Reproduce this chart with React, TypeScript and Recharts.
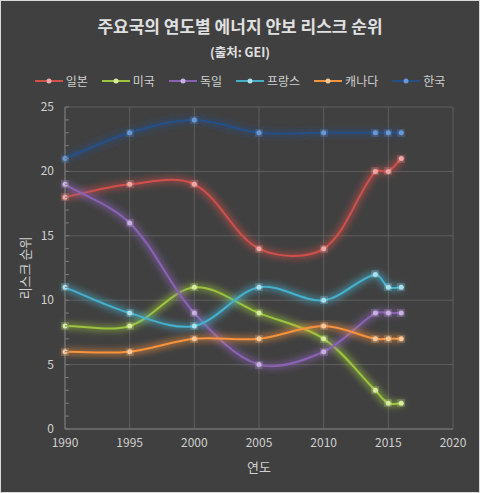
import React from 'react';
import { LineChart, Line, XAxis, YAxis, CartesianGrid } from 'recharts';

const years = [1990, 1995, 2000, 2005, 2010, 2014, 2015, 2016];
const japan = [18, 19, 19, 14, 14, 20, 20, 21];
const usa = [8, 8, 11, 9, 7, 3, 2, 2];
const germany = [19, 16, 9, 5, 6, 9, 9, 9];
const france = [11, 9, 8, 11, 10, 12, 11, 11];
const canada = [6, 6, 7, 7, 8, 7, 7, 7];
const korea = [21, 23, 24, 23, 23, 23, 23, 23];

const xTicks = [1990, 1995, 2000, 2005, 2010, 2015, 2020];
const yTicks = Array.from({ length: 26 }, (_, i) => i);
const yMajor = [0, 5, 10, 15, 20, 25];

const series = [
    { key: 'japan', name: '일본', values: japan, color: '#d0504c', dot: '#f0a8a6' },
    { key: 'usa', name: '미국', values: usa, color: '#9cc43e', dot: '#d4ec9c' },
    { key: 'germany', name: '독일', values: germany, color: '#8a62b4', dot: '#c8b0e2' },
    { key: 'france', name: '프랑스', values: france, color: '#46b0cc', dot: '#a8e0ee' },
    { key: 'canada', name: '캐나다', values: canada, color: '#f7923e', dot: '#fcc89a' },
    { key: 'korea', name: '한국', values: korea, color: '#264f88', dot: '#6a98d4' },
];

const data = years.map((year, i) => {
    const row: any = { year };
    series.forEach(s => { row[s.key] = s.values[i]; });
    return row;
});

const FONT = '"Noto Sans CJK KR", "Noto Sans", sans-serif';
const TEXT = '#d0d0d0';

const dist = (a: number[], b: number[]) => Math.hypot(b[0] - a[0], b[1] - a[1]);

// Excel-like smoothed line: Catmull-Rom bezier, tangents scaled by segment length
const excelCurve: any = (context: any) => {
    let pts: number[][] = [];
    return {
        areaStart() {},
        areaEnd() {},
        lineStart() { pts = []; },
        lineEnd() {
            if (!pts.length) return;
            context.moveTo(pts[0][0], pts[0][1]);
            for (let i = 0; i < pts.length - 1; i++) {
                const p0 = pts[i - 1] || pts[i];
                const p1 = pts[i];
                const p2 = pts[i + 1];
                const p3 = pts[i + 2] || p2;
                const d01 = dist(p0, p1), d12 = dist(p1, p2), d23 = dist(p2, p3);
                const k1 = d01 + d12 > 0 ? d12 / (d01 + d12) / 1.5 : 0;
                const k2 = d12 + d23 > 0 ? d12 / (d12 + d23) / 1.5 : 0;
                const s1 = pts[i - 1] ? k1 / 2 : k1 / 2;
                const s2 = pts[i + 2] ? k2 / 2 : k2 / 2;
                context.bezierCurveTo(
                    p1[0] + (p2[0] - p0[0]) * s1, p1[1] + (p2[1] - p0[1]) * s1,
                    p2[0] - (p3[0] - p1[0]) * s2, p2[1] - (p3[1] - p1[1]) * s2,
                    p2[0], p2[1]
                );
            }
        },
        point(x: number, y: number) { pts.push([x, y]); },
    };
};

const YTick = ({ x, y, payload }: any) => {
    const axisX = x + 10;
    const v = payload.value;
    return (
        <g>
            <line x1={axisX} x2={axisX + 4} y1={y} y2={y} stroke="#7a7a7a" />
            {v % 5 === 0 && (
                <text x={axisX - 11} y={y} dy={4} textAnchor="end" fill={TEXT} fontSize={12} fontFamily={FONT}>{v}</text>
            )}
        </g>
    );
};

const App = () => {
    return (
        <div style={{ position: 'fixed', left: 0, top: 0, width: 480, height: 493, background: '#404040', border: '1px solid #d9d9d9', boxSizing: 'border-box', fontFamily: FONT }}>
            <div style={{ position: 'absolute', top: 12, left: 0, width: 478, textAlign: 'center', color: '#e0e0e0', fontSize: 17, fontWeight: 'bold' }}>
                주요국의 연도별 에너지 안보 리스크 순위
            </div>
            <div style={{ position: 'absolute', top: 41, left: 0, width: 478, textAlign: 'center', color: '#e0e0e0', fontSize: 12.5, fontWeight: 'bold' }}>
                (출처: GEI)
            </div>
            <div style={{ position: 'absolute', top: 71, left: 0, width: 478, display: 'flex', justifyContent: 'center', gap: 14, color: TEXT, fontSize: 12 }}>
                {series.map(s => (
                    <div key={s.key} style={{ display: 'flex', alignItems: 'center' }}>
                        <svg width={28} height={10} style={{ marginRight: 3 }}>
                            <line x1={0} x2={28} y1={5} y2={5} stroke={s.color} strokeWidth={2} />
                            <circle cx={14} cy={5} r={2.5} fill={s.dot} />
                        </svg>
                        <span>{s.name}</span>
                    </div>
                ))}
            </div>
            <LineChart
                width={478}
                height={491}
                data={data}
                margin={{ top: 106, right: 26, left: 0, bottom: 18 }}
                style={{ position: 'absolute', left: 0, top: 0 }}
            >
                <defs>
                    {series.map(s => (
                        <filter key={s.key} id={'glow-' + s.key} x="-20%" y="-20%" width="140%" height="140%">
                            <feMorphology in="SourceGraphic" operator="dilate" radius={2} result="thick" />
                            <feGaussianBlur in="thick" stdDeviation={3} result="blur" />
                            <feComponentTransfer in="blur" result="soft">
                                <feFuncA type="linear" slope={0.55} />
                            </feComponentTransfer>
                            <feMerge>
                                <feMergeNode in="soft" />
                                <feMergeNode in="SourceGraphic" />
                            </feMerge>
                        </filter>
                    ))}
                </defs>
                <CartesianGrid stroke="#5e5e5e" horizontalValues={yMajor} verticalValues={xTicks} />
                <XAxis
                    dataKey="year"
                    type="number"
                    domain={[1990, 2020]}
                    ticks={xTicks}
                    height={45}
                    tickLine={false}
                    tickSize={0}
                    tickMargin={9}
                    axisLine={{ stroke: '#7a7a7a' }}
                    tick={{ fill: TEXT, fontSize: 12, fontFamily: FONT }}
                    label={{ value: '연도', position: 'insideBottom', offset: 2, fill: TEXT, fontSize: 13, fontFamily: FONT }}
                />
                <YAxis
                    type="number"
                    domain={[0, 25]}
                    ticks={yTicks}
                    interval={0}
                    width={64}
                    tickLine={false}
                    tickSize={0}
                    tickMargin={10}
                    axisLine={{ stroke: '#7a7a7a' }}
                    tick={<YTick />}
                    label={{ value: '리스크 순위', angle: -90, position: 'insideLeft', offset: 24, fill: TEXT, fontSize: 13, fontFamily: FONT, style: { textAnchor: 'middle' } }}
                />
                {series.map(s => (
                    <Line
                        key={s.key}
                        dataKey={s.key}
                        name={s.name}
                        type={excelCurve}
                        stroke={s.color}
                        strokeWidth={2}
                        filter={'url(#glow-' + s.key + ')'}
                        dot={{ r: 2.5, fill: s.dot, stroke: 'none' }}
                        isAnimationActive={false}
                    />
                ))}
            </LineChart>
        </div>
    );
};

export default App;
